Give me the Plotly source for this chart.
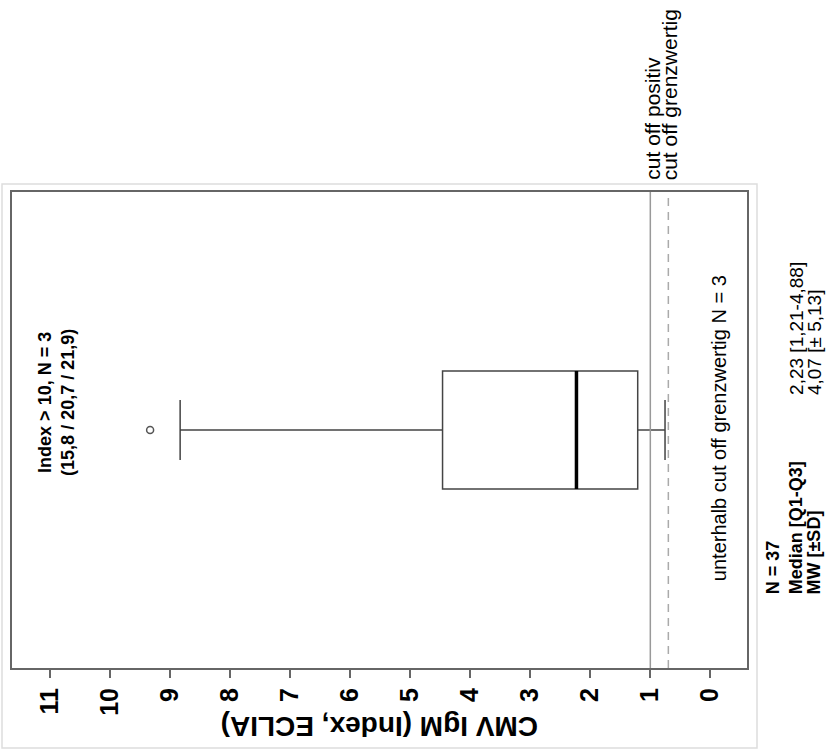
import plotly.graph_objects as go

# CMV IgM index distribution (N = 37), Tukey box with one outlier
group_pos = [0]
q1 = [1.21]
median = [2.23]
q3 = [4.46]
lower_whisker = [0.755]
upper_whisker = [8.83]
outliers = [9.33]

cutoff_positiv = 1.0
cutoff_grenzwertig = 0.7

tick_vals = list(range(0, 12))
tick_text = [str(v) for v in tick_vals]

stat_labels = ["N = 37", "Median [Q1-Q3]", "MW [±SD]"]
stat_values = ["2,23 [1,21-4,88]", "4,07 [± 5,13]"]

FONT = "Liberation Sans, Arial, sans-serif"
BOX_W = 0.496

fig = go.Figure()

fig.add_trace(go.Box(
    y=group_pos, q1=q1, median=median, q3=q3,
    lowerfence=lower_whisker, upperfence=upper_whisker,
    orientation="h", width=BOX_W, whiskerwidth=0.51,
    boxpoints=False, fillcolor="white",
    line=dict(color="#444444", width=1.5),
    hoverinfo="skip", showlegend=False,
))

# heavy median bar
fig.add_trace(go.Scatter(
    x=[median[0], median[0]], y=[group_pos[0] - BOX_W / 2, group_pos[0] + BOX_W / 2],
    mode="lines", line=dict(color="black", width=3.5),
    hoverinfo="skip", showlegend=False,
))

# outlier
fig.add_trace(go.Scatter(
    x=outliers, y=[group_pos[0]] * len(outliers), mode="markers",
    marker=dict(symbol="circle-open", size=7, color="#555555", line=dict(width=1.5)),
    hoverinfo="skip", showlegend=False,
))

# cut-off reference lines
fig.add_vline(x=cutoff_positiv, line=dict(color="#999999", width=1.5))
fig.add_vline(x=cutoff_grenzwertig, line=dict(color="#aaaaaa", width=1.5, dash="8px,6px"))

fig.update_xaxes(
    range=[11.63, -0.61], tickvals=tick_vals, ticktext=tick_text, tickangle=-90,
    ticks="outside", ticklen=8, tickwidth=1.5, tickcolor="#666666",
    tickfont=dict(family=FONT, size=25, color="black", weight="bold"),
    showline=True, linecolor="#666666", linewidth=2, mirror=True,
    showgrid=False, zeroline=False,
)
fig.update_yaxes(
    range=[-1, 1], showticklabels=False, ticks="",
    showline=True, linecolor="#666666", linewidth=2, mirror=True,
    showgrid=False, zeroline=False,
)

def note(text, x, y, size, bold=True, xanchor="center", yanchor="middle", angle=-90):
    fig.add_annotation(
        text=f"<b>{text}</b>" if bold else text, x=x, y=y, xref="paper", yref="paper",
        xanchor=xanchor, yanchor=yanchor, textangle=angle, showarrow=False,
        font=dict(family=FONT, size=size, color="black"),
    )

# axis title (upside down)
note("CMV IgM (Index, ECLIA)", 0.5, -0.124, 28, angle=180)

note("Index > 10, N = 3<br>(15,8 / 20,7 / 21,9)", 0.0612, 0.559, 18)
note("unterhalb cut off grenzwertig N = 3", 0.962, 0.504, 20, bold=False)

note("cut off positiv", 0.871, 1.021, 21, bold=False, yanchor="bottom")
note("cut off grenzwertig", 0.895, 1.021, 21, bold=False, yanchor="bottom")

for lbl, xp in zip(stat_labels, [1.035, 1.067, 1.091]):
    note(lbl, xp, 0.15, 18, yanchor="bottom")
for val, xp in zip(stat_values, [1.067, 1.091]):
    note(val, xp, 0.569, 19, bold=False, yanchor="bottom")

# light outer border of the figure panel
fig.add_shape(type="rect", xref="paper", yref="paper",
              x0=-0.0136, x1=1.0136, y0=-0.168, y1=1.0168,
              line=dict(color="#dddddd", width=1.5), layer="below")

fig.update_layout(
    width=831, height=749,
    margin=dict(l=12, r=84, t=192, b=81),
    paper_bgcolor="white", plot_bgcolor="white",
    showlegend=False,
)

fig.write_html("out.html")
